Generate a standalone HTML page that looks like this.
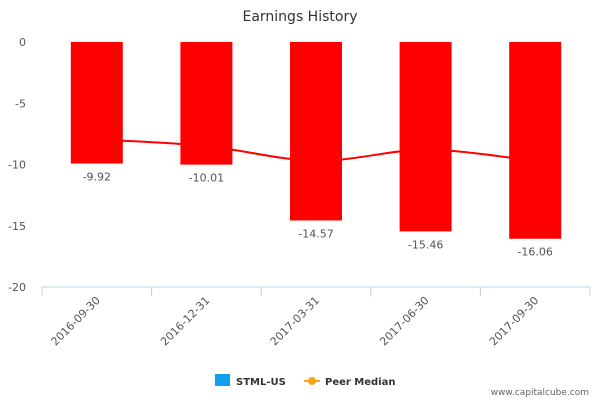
<!DOCTYPE html>
<html><head><meta charset="utf-8"><style>
body{margin:0;background:#fff;font-family:"Liberation Sans","DejaVu Sans",sans-serif}
svg text{font-family:"DejaVu Sans","Liberation Sans",sans-serif}
</style></head><body>
<svg id="chart" width="600" height="400">
<text x="300" y="21" text-anchor="middle" font-size="14" fill="#333">Earnings History</text>
<g id="yaxis"></g>
<g id="line"></g>
<g id="bars"></g>
<g id="xaxis"></g>
<g>
<g><rect x="215" y="374" width="15" height="12" fill="#0fa1ef"/><text x="236" y="385" font-size="10" font-weight="bold" fill="#333">STML-US</text></g>
<g><line x1="304" y1="381" x2="320" y2="381" stroke="#f7a21b" stroke-width="2"/><circle cx="312" cy="381" r="4" fill="#f7a21b"/><text x="325" y="385" font-size="10" font-weight="bold" fill="#333">Peer Median</text></g>
</g>
<text x="589" y="395" text-anchor="end" font-size="9" fill="#666">www.capitalcube.com</text>
</svg>
<script>
const categories=["2016-09-30","2016-12-31","2017-03-31","2017-06-30","2017-09-30"];
const values=[-9.92,-10.01,-14.57,-15.46,-16.06];
const peer=[-7.95,-8.5,-9.7,-8.8,-9.7];
const yTicks=[0,-5,-10,-15,-20];
const NS="http://www.w3.org/2000/svg";
const L=42,R=590,T=42,B=287;
const y=v=>T+(0-v)/20*(B-T);
const bw=(R-L)/categories.length;
const x=i=>L+bw*(i+0.5);
function mk(t,a,p){const e=document.createElementNS(NS,t);for(const k in a)e.setAttribute(k,a[k]);p.appendChild(e);return e;}
const ya=document.getElementById('yaxis');
yTicks.forEach(v=>{const t=mk('text',{x:26,y:y(v)+4,'text-anchor':'end','font-size':11,fill:'#555'},ya);t.textContent=v;

});
const xa=document.getElementById('xaxis');
const ax=mk('line',{x1:L,x2:R,y1:B,y2:B,stroke:'#c0d0e0'},xa);


for(let i=0;i<=categories.length;i++){const t=mk('line',{x1:L+bw*i,x2:L+bw*i,y1:B,y2:B+9,stroke:'#c0d0e0'},xa);

}
categories.forEach((c,i)=>{const t=mk('text',{x:x(i)+4,y:B+14,'text-anchor':'end','font-size':11,fill:'#555',transform:`rotate(-45 ${x(i)+4} ${B+14})`},xa);t.textContent=c;

});
// line
const pts=peer.map((v,i)=>[x(i),y(v)]);
let d=`M${pts[0][0]},${pts[0][1]}`;
for(let i=0;i<pts.length-1;i++){const p0=pts[Math.max(0,i-1)],p1=pts[i],p2=pts[i+1],p3=pts[Math.min(pts.length-1,i+2)];
const c1=[p1[0]+(p2[0]-p0[0])/6,p1[1]+(p2[1]-p0[1])/6],c2=[p2[0]-(p3[0]-p1[0])/6,p2[1]-(p3[1]-p1[1])/6];
d+=` C${c1[0]},${c1[1]} ${c2[0]},${c2[1]} ${p2[0]},${p2[1]}`;}
const ln=mk('path',{d:d,fill:'none',stroke:'#ff0000','stroke-width':2},document.getElementById('line'));


const bg=document.getElementById('bars');
values.forEach((v,i)=>{const r=mk('rect',{x:x(i)-26,y:y(0),width:52,height:y(v)-y(0),fill:'#ff0000'},bg);


const t=mk('text',{x:x(i),y:y(v)+17,'text-anchor':'middle','font-size':11,fill:'#555'},bg);t.textContent=v.toFixed(2);

});
</script>
</body></html>
